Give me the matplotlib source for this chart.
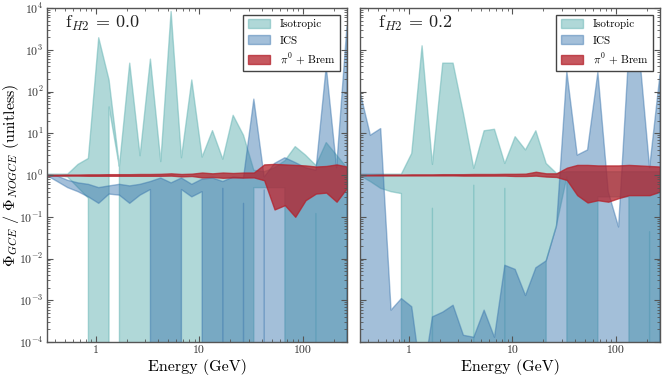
import numpy as np
import matplotlib
matplotlib.use("Agg")
import matplotlib.pyplot as plt
from matplotlib.patches import Patch

plt.rcParams['font.family'] = 'serif'
plt.rcParams['font.serif'] = ['cmr10', 'DejaVu Serif']
plt.rcParams['mathtext.fontset'] = 'cm'
plt.rcParams['axes.formatter.use_mathtext'] = True
plt.rcParams['axes.unicode_minus'] = False

# --------------------------------------------------------------------------
# Data: bin centres (GeV) and band limits
# --------------------------------------------------------------------------
energy = [0.3366, 0.4237, 0.5334, 0.6715, 0.8454, 1.0643, 1.340, 1.687, 2.123, 2.673,
          3.365, 4.237, 5.334, 6.715, 8.454, 10.643, 13.40, 16.87, 21.23, 26.73,
          33.65, 42.37, 53.34, 67.15, 84.54, 106.43, 133.98, 168.67, 212.34, 267.32]

# f_H2 = 0.0
iso_hi_00 = [1.05, 1.05, 1.05, 1.8, 2.5, 1950, 190, 1.6, 480, 2.9,
             600, 2.1, 8300, 2.6, 190, 2.7, 11.6, 2.4, 27, 9,
             1.3, 1.2, 1.5, 2.2, 4.8, 3.0, 1.7, 6.0, 3.0, 1.5]
iso_lo_00 = [0.95, 0.97, 0.9, 0.5, 0.28, 0, 43, 1.55, 0, 0,
             0, 0, 0, 0, 0, 0, 0, 0, 0, 0,
             0.5, 0.5, 0.5, 0.5, 0, 0, 0.12, 0, 0, 0]
ics_hi_00 = [1.0, 0.95, 0.75, 0.65, 0.6, 0.5, 0.55, 0.6, 0.55, 0.6,
             0.7, 0.85, 0.65, 0.85, 0.6, 0.8, 0.85, 0.7, 0.9, 0.85,
             66, 0.9, 1.9, 2.6, 2.0, 1.5, 1.3, 400, 1.5, 3600]
ics_lo_00 = [0.97, 0.7, 0.5, 0.4, 0.3, 0.21, 0.35, 0.33, 0.21, 0.33,
             0.45, 0, 0, 0.45, 0.3, 0.4, 0, 0.48, 0, 0.21,
             0, 0.44, 0, 0, 0, 0, 0, 0, 0, 0]
pib_hi_00 = [1.02, 1.02, 1.03, 1.03, 1.04, 1.04, 1.05, 1.05, 1.05, 1.06,
             1.06, 1.07, 1.1, 1.06, 1.08, 1.15, 1.1, 1.15, 1.12, 1.15,
             1.15, 1.8, 1.85, 1.8, 1.75, 1.7, 1.6, 1.65, 1.8, 1.6]
pib_lo_00 = [0.97, 0.97, 0.97, 0.97, 0.96, 0.96, 0.96, 0.96, 0.96, 0.96,
             0.96, 0.96, 0.97, 0.93, 0.95, 0.88, 0.9, 0.86, 0.88, 0.87,
             0.88, 0.75, 0.15, 0.19, 0.1, 0.25, 0.36, 0.38, 0.23, 0.49]

# f_H2 = 0.2
iso_hi_02 = [1.05, 1.05, 1.05, 1.05, 1.05, 3.3, 1250, 1.8, 480, 480,
             30, 1.45, 11.5, 12.5, 1.9, 8.3, 4.0, 11.5, 1.9, 1.1,
             1.2, 1.2, 1.2, 1.2, 1.2, 1.2, 1.2, 1.2, 1.2, 1.2]
iso_lo_02 = [0.97, 0.7, 0.48, 0.4, 0.36, 0, 0, 0.16, 0, 0,
             0, 0.57, 0, 0, 0.48, 0, 0, 0, 0.0088, 0.063,
             0.9, 0, 0, 0.3, 0.3, 0.3, 0.3, 0, 0.044, 0]
ics_hi_02 = [100, 9, 13, 5.8e-4, 1.1e-3, 7e-4, 1e-5, 4e-4, 5.2e-4, 7.6e-4,
             1.45e-4, 1.3e-4, 5.8e-4, 1.3e-4, 6.9e-3, 5.5e-3, 1.3e-3, 6e-3, 8.8e-3, 0.06,
             300, 3, 4, 290, 0.4, 0.057, 1000, 900, 1.5, 250]
ics_lo_02 = [0] * 30
pib_hi_02 = [1.02, 1.02, 1.03, 1.03, 1.03, 1.04, 1.04, 1.04, 1.05, 1.05,
             1.05, 1.06, 1.06, 1.06, 1.07, 1.07, 1.08, 1.2, 1.1, 1.1,
             1.5, 1.75, 1.75, 1.7, 1.7, 1.7, 1.75, 1.7, 1.65, 1.6]
pib_lo_02 = [0.98, 0.98, 0.98, 0.98, 0.98, 0.98, 0.98, 0.98, 0.98, 0.98,
             0.97, 0.97, 0.97, 0.97, 0.97, 0.95, 0.95, 0.97, 0.92, 0.9,
             0.76, 0.33, 0.22, 0.25, 0.23, 0.28, 0.33, 0.33, 0.33, 0.4]

panels = [('0.0', iso_lo_00, iso_hi_00, ics_lo_00, ics_hi_00, pib_lo_00, pib_hi_00),
          ('0.2', iso_lo_02, iso_hi_02, ics_lo_02, ics_hi_02, pib_lo_02, pib_hi_02)]

c_iso, a_iso = '#62b3b3', 0.5
c_ics, a_ics = '#3471ab', 0.45
c_pib, a_pib = '#b4202a', 0.75
spine_col = '#555555'

# --------------------------------------------------------------------------
# Figure
# --------------------------------------------------------------------------
fig = plt.figure(figsize=(6.65, 3.79), dpi=100)
ax_pos = [[0.0707, 0.0976, 0.451, 0.881], [0.5414, 0.0976, 0.451, 0.881]]

for k, (fh2, ilo, ihi, clo, chi, plo, phi) in enumerate(panels):
    ax = fig.add_axes(ax_pos[k])
    ax.set_xscale('log')
    ax.set_yscale('log')
    ax.fill_between(energy, ilo, ihi, color=c_iso, alpha=a_iso)
    ax.fill_between(energy, clo, chi, color=c_ics, alpha=a_ics)
    ax.fill_between(energy, plo, phi, color=c_pib, alpha=a_pib)

    ax.set_xlim(energy[0], energy[-1])
    ax.set_ylim(1e-4, 1e4)
    ax.set_xticks([1, 10, 100], labels=['1', '10', '100'])
    ax.tick_params(which='both', direction='in', top=True, right=True,
                   colors=spine_col, labelcolor='#333333', labelsize=8.5, pad=2.5)
    ax.tick_params(which='major', length=4)
    ax.tick_params(which='minor', length=2)
    for s in ax.spines.values():
        s.set_color(spine_col)
        s.set_linewidth(1.0)

    ax.set_xlabel('Energy (GeV)', fontsize=11.5)
    ax.xaxis.set_label_coords(0.5, -0.05)
    if k == 0:
        ax.set_ylabel(r'$\Phi_{GCE}$ / $\Phi_{NOGCE}$ (unitless)', fontsize=11.5)
        ax.yaxis.set_label_coords(-0.087, 0.5)
    else:
        ax.tick_params(labelleft=False)

    ax.text(0.06, 0.955, r'$\mathrm{f}_{H2}$ = ' + fh2, transform=ax.transAxes,
            fontsize=13, va='center', ha='left', color='#222222')

    handles = [Patch(facecolor=c_iso, alpha=a_iso, edgecolor=c_iso, label='Isotropic'),
               Patch(facecolor=c_ics, alpha=a_ics, edgecolor=c_ics, label='ICS'),
               Patch(facecolor=c_pib, alpha=a_pib, edgecolor=c_pib, label=r'$\pi^0$ + Brem')]
    leg = ax.legend(handles=handles, loc='upper right', fontsize=8, fancybox=False,
                    framealpha=1, edgecolor='#444444', borderaxespad=0.6, borderpad=0.4,
                    handlelength=2.0, handleheight=0.8, handletextpad=0.9, labelspacing=0.55)
    leg.get_frame().set_linewidth(1.0)

fig.savefig('out.png', dpi=100)
